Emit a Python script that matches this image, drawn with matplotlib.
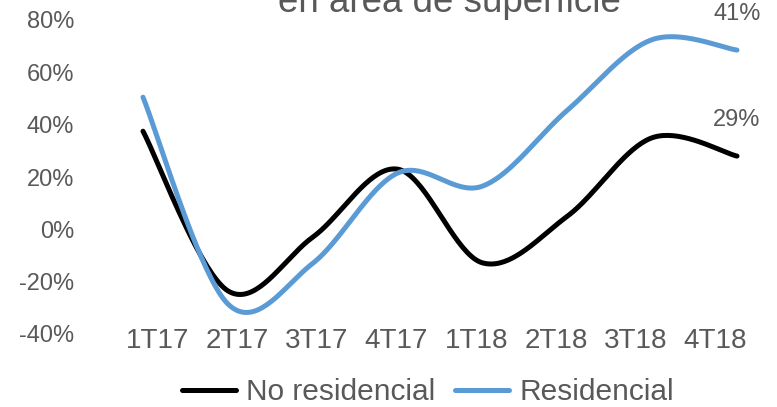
import numpy as np
import matplotlib
matplotlib.use("Agg")
import matplotlib.pyplot as plt

# data (percent)
quarters = ["1T17", "2T17", "3T17", "4T17", "1T18", "2T18", "3T18", "4T18"]
no_residencial = [37.5, -23.5, -3, 23, -12.8, 5, 35, 28]
residencial = [50.5, -28.5, -13, 21.5, 16.5, 45.5, 72.5, 68.5]
end_labels = ["29%", "41%"]
yticks = [-40, -20, 0, 20, 40, 60, 80]

plt.rcParams["font.family"] = ["Liberation Sans", "DejaVu Sans"]
grey = "#595959"


def smooth(x, y, n=40):
    # excel-like smoothed line: bezier with catmull-rom control points
    p = np.column_stack([x, y]).astype(float)
    pts = []
    for i in range(len(p) - 1):
        p0 = p[max(i - 1, 0)]
        p1 = p[i]
        p2 = p[i + 1]
        p3 = p[min(i + 2, len(p) - 1)]
        c1 = p1 + (p2 - p0) / 6.0
        c2 = p2 - (p3 - p1) / 6.0
        t = np.linspace(0, 1, n)[:, None]
        seg = (1-t)**3*p1 + 3*(1-t)**2*t*c1 + 3*(1-t)*t**2*c2 + t**3*p2
        pts.append(seg if i == 0 else seg[1:])
    pts = np.vstack(pts)
    return pts[:, 0], pts[:, 1]


fig = plt.figure(figsize=(7.77, 4.07), dpi=100)
W, H = 777, 407
# axes spans px 100..770 horizontally, 20..334 vertically
ax = fig.add_axes([100/W, (H-334)/H, 670/W, 314/H])

x = np.arange(len(quarters))
xs, ys = smooth(x, no_residencial)
ax.plot(xs, ys, color="black", lw=3.6, solid_capstyle="round",
        label="No residencial", clip_on=False)
xs, ys = smooth(x, residencial)
ax.plot(xs, ys, color="#5B9BD5", lw=3.6, solid_capstyle="round",
        label="Residencial", clip_on=False)

# labels above the last points
for vals, lab in zip([no_residencial, residencial], end_labels):
    ax.annotate(lab, (x[-1], vals[-1]), xytext=(0, 26), textcoords="offset points",
                ha="center", va="center", fontsize=17, color=grey,
                annotation_clip=False)

sc = 84.857
ax.set_xlim(-(143-100)/sc, 7 + (770-737)/sc)
ax.set_ylim(-40, 80)
ax.set_yticks(yticks)
ax.set_yticklabels([f"{v}%" for v in yticks], fontsize=17, color=grey)
ax.set_xticks(0.171 + 0.939*x)
ax.set_xticklabels(quarters, fontsize=20, color=grey)
ax.tick_params(axis="y", length=0, pad=18.5)
ax.tick_params(axis="x", length=0, pad=-4)
for s in ax.spines.values():
    s.set_visible(False)

fig.text(449/W, (H-12)/H, "en área de superficie", ha="center",
         va="baseline", fontsize=26.5, color=grey)

fig.legend(loc="center", bbox_to_anchor=(428/W, (H-392)/H), ncol=2,
           frameon=False, fontsize=21.5, labelcolor=grey, handlelength=1.8,
           handletextpad=0.35, columnspacing=0.65)

fig.savefig("out.png", dpi=100)
